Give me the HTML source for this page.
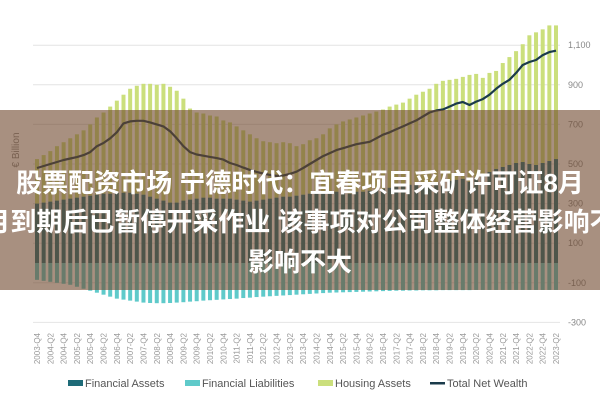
<!DOCTYPE html>
<html><head><meta charset="utf-8"><style>
html,body{margin:0;padding:0;background:#fff;}
#wrap{position:relative;width:600px;height:400px;overflow:hidden;font-family:"Liberation Sans",sans-serif;}
svg{position:absolute;left:0;top:0;}
#overlay{position:absolute;left:0;top:110px;width:600px;height:180px;background:rgba(110,70,43,0.6);}
.tl{position:absolute;left:-100px;width:800px;text-align:center;color:#fff;font-family:"Liberation Sans","Noto Sans CJK SC",sans-serif;font-weight:bold;font-size:26px;line-height:30px;white-space:nowrap;}
</style></head><body>
<div id="wrap">
<svg id="chart" width="600" height="400"></svg>
<div id="overlay">
<div class="tl" style="top:58px">股票配资市场 宁德时代：宜春项目采矿许可证8月</div>
<div class="tl" style="top:97px">月到期后已暂停开采作业 该事项对公司整体经营影响不</div>
<div class="tl" style="top:137px">影响不大</div>
</div>
</div>
<script>
const totalTop = [525,545,565,590,610, 630,650,670,700, 735,760,790,820, 850,880,895,905, 905,900,905,890, 870,830,780,760, 755,745,740,720, 710,690,670,650, 630,615,610,605, 610,605,590,600, 620,630,650,680, 700,715,725,735, 745,755,765,775, 790,800,810,830, 850,865,880,905, 920,925,930,940, 950,955,935,960, 970,1010,1040,1070, 1105,1150,1165,1180, 1200,1200];
const financialAssets = [300,305,310,315,320, 325,330,335,340, 345,350,350,355, 355,355,350,345, 335,325,315,305, 305,315,320,325, 330,330,325,325, 325,320,315,310, 315,320,325,330, 335,335,340,345, 350,350,355,355, 360,355,350,360, 360,365,370,375, 380,385,390,395, 395,400,395,405, 410,415,420,425, 410,430,445,460, 475,485,495,505, 510,500,495,505, 515,525];
const liabilities = [-85,-90,-95,-100,-105, -110,-120,-130,-140, -150,-160,-170,-180, -185,-190,-195,-200, -202,-203,-203,-202, -200,-198,-195,-193, -190,-188,-186,-184, -182,-180,-177,-175, -172,-170,-168,-166, -164,-162,-160,-158, -156,-154,-152,-150, -149,-148,-147,-146, -145,-144,-143,-142, -141,-140,-140,-139, -139,-138,-138,-138, -137,-137,-137,-137, -137,-136,-136,-136, -136,-136,-136,-136, -136,-136,-136,-136, -136,-136];
const netWealth = [480,490,500,510,520, 528,535,545,560, 590,606,630,660, 705,715,718,718, 710,700,690,665, 630,590,560,548, 542,536,530,522, 505,495,482,470, 460,452,445,440, 442,450,461,480, 500,520,540,555, 570,580,590,600, 606,612,630,648, 660,675,690,705, 720,740,760,770, 775,790,805,813, 798,815,828,850, 880,905,925,960, 1000,1015,1025,1050, 1065,1072];
const yTicks = [1100,900,700,500,300,100,-100,-300];
const yTickLabels = ["1,100","900","700","500","300","100","-100","-300"];

const svg = document.getElementById('chart');
const NS = 'http://www.w3.org/2000/svg';
const n = totalTop.length;
function xPos(i){ return 37 + i*(556-37)/(n-1); }
function yPos(v){ return 263 - v*0.198; }
function qLabel(i){ const q = 4 + i - 1; const yr = 2003 + Math.floor((q)/4); const qq = (q%4)+1; return yr + '-Q' + qq; }
function mk(tag, attrs){ const e=document.createElementNS(NS,tag); for(const k in attrs) e.setAttribute(k,attrs[k]); svg.appendChild(e); return e; }

yTicks.forEach((v,k)=>{
  const g = mk('line',{x1:33,x2:560,y1:yPos(v),y2:yPos(v),stroke:'#e4e4e4','stroke-width':1});
  
  
  const t = mk('text',{x:568,y:yPos(v)+3,'font-size':9,fill:'#888'});
  t.textContent = yTickLabels[k];
  
  
});
const yt = mk('text',{x:0,y:0,'font-size':10,fill:'#888',transform:'translate(19,150) rotate(-90)','text-anchor':'middle'});
yt.textContent='€ Billion';



for(let i=0;i<n;i++){
  const x = xPos(i)-2;
  const h = mk('rect',{x:x,y:yPos(totalTop[i]),width:4,height:yPos(financialAssets[i])-yPos(totalTop[i]),fill:'#cbdf7c'});
  
  
  const f = mk('rect',{x:x,y:yPos(financialAssets[i]),width:4,height:yPos(0)-yPos(financialAssets[i]),fill:'#1e6b78'});
  
  
  const l = mk('rect',{x:x,y:yPos(0),width:4,height:yPos(liabilities[i])-yPos(0),fill:'#5fcaca'});
  
  
}
let d='';
for(let i=0;i<n;i++){ d += (i?'L':'M') + xPos(i).toFixed(1) + ' ' + yPos(netWealth[i]).toFixed(1); }
const ln = mk('path',{d:d,fill:'none',stroke:'#1b3b4b','stroke-width':2.2,'stroke-linejoin':'round'});



for(let i=0;i<n;i+=2){
  const t = mk('text',{x:0,y:0,'font-size':8,fill:'#999','text-anchor':'end',transform:'translate('+(xPos(i)+3)+',333) rotate(-90)'});
  t.textContent = qLabel(i);
  
  
}

const legend = [["Financial Assets",'#1e6b78',68,'rect'],["Financial Liabilities",'#5fcaca',185,'rect'],["Housing Assets",'#cbdf7c',318,'rect'],["Total Net Wealth",'#1b3b4b',430,'line']];
legend.forEach(L=>{
  let s;
  if(L[3]==='rect') s = mk('rect',{x:L[2],y:380,width:15,height:6,fill:L[1]});
  else s = mk('rect',{x:L[2],y:382,width:15,height:2.5,fill:L[1]});
  
  
  const t = mk('text',{x:L[2]+17,y:387,'font-size':11,fill:'#555'});
  t.textContent = L[0];
  
  
});
</script>
</body></html>
